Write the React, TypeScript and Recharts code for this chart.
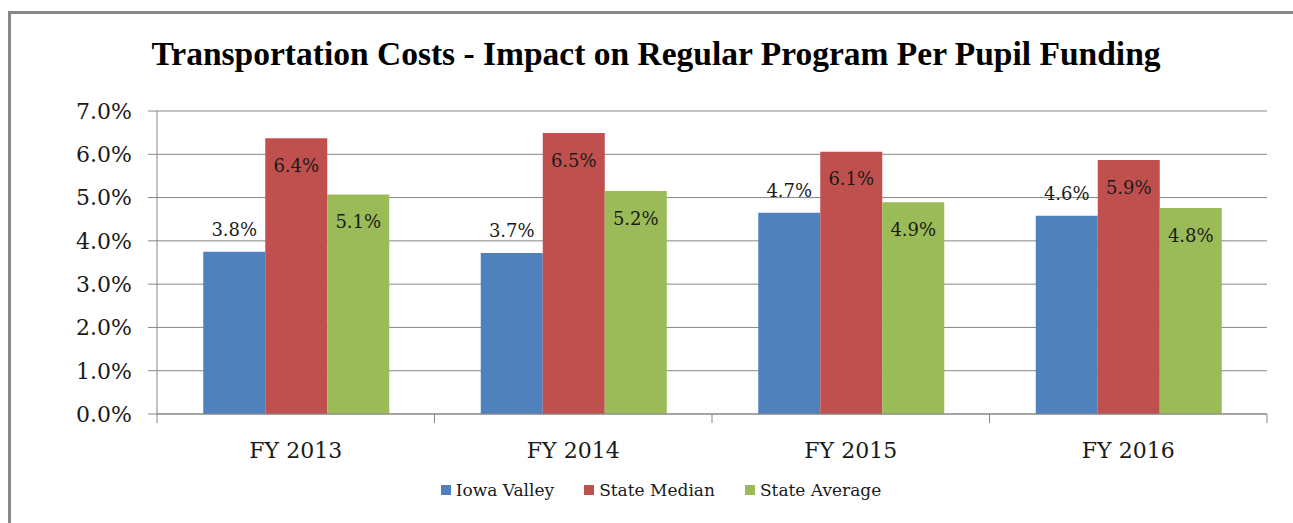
import React from "react";
import { BarChart, Bar, XAxis, YAxis, CartesianGrid, LabelList } from "recharts";

const categories = ["FY 2013", "FY 2014", "FY 2015", "FY 2016"];
const iowaValley = [3.75, 3.72, 4.65, 4.58];
const stateMedian = [6.37, 6.49, 6.06, 5.87];
const stateAverage = [5.07, 5.15, 4.89, 4.76];
const yTicks = [0, 1, 2, 3, 4, 5, 6, 7];

const series = [
  { key: "iowa", name: "Iowa Valley", color: "#4F81BD", label: "top", offset: 16 },
  { key: "median", name: "State Median", color: "#C0504D", label: "insideTop", offset: 21 },
  { key: "average", name: "State Average", color: "#9BBB59", label: "insideTop", offset: 21 },
];

const data = categories.map((c, i) => ({
  name: c,
  iowa: iowaValley[i],
  median: stateMedian[i],
  average: stateAverage[i],
}));

const CHART_W = 1282;
const CHART_H = 470;
const MARGIN = { top: 97, right: 26, bottom: 0, left: 0 };
const Y_W = 146;
const BAND = (CHART_W - MARGIN.left - MARGIN.right - Y_W) / categories.length;
const GRID = "#868686";
const FONT = "'DejaVu Serif', serif";

const fmt = (v: number) => `${v.toFixed(1)}%`;

function CategoryTick(props: any) {
  const { x, y, payload, index } = props;
  const half = BAND / 2;
  return (
    <g>
      <line x1={x - half} x2={x - half} y1={y} y2={y + 9} stroke={GRID} />
      {index === categories.length - 1 && (
        <line x1={x + half} x2={x + half} y1={y} y2={y + 9} stroke={GRID} />
      )}
      <text x={x} y={y + 44} textAnchor="middle" fontSize={22} fontFamily={FONT} fill="#1a1a1a">
        {payload.value}
      </text>
    </g>
  );
}

export default function App() {
  return (
    <div style={{ position: "relative", width: 1293, height: 523, overflow: "hidden" }}>
      <style>{"body { margin: 0; } html, body { overflow: hidden; }"}</style>
      {/* frame: top and left edges of the chart box */}
      <div style={{ position: "absolute", left: 8, top: 11, width: 1285, height: 3, background: "#878787" }} />
      <div style={{ position: "absolute", left: 8, top: 11, width: 3, height: 512, background: "#878787" }} />
      <div style={{ position: "absolute", left: 11, top: 14, width: 1282, height: 509, overflow: "hidden" }}>
        <div
          style={{
            position: "absolute",
            left: 0,
            width: 1290,
            top: 21,
            textAlign: "center",
            fontFamily: "'Liberation Serif', serif",
            fontWeight: "bold",
            fontSize: 33.5,
            color: "#000",
            whiteSpace: "nowrap",
          }}
        >
          Transportation Costs - Impact on Regular Program Per Pupil Funding
        </div>
        <BarChart
          width={CHART_W}
          height={CHART_H}
          data={data}
          margin={MARGIN}
          barCategoryGap="16.67%"
          barGap={0}
        >
          <CartesianGrid vertical={false} stroke={GRID} />
          <XAxis
            dataKey="name"
            height={70}
            tickSize={0}
            tickMargin={0}
            axisLine={{ stroke: GRID }}
            tickLine={false}
            tick={<CategoryTick />}
            interval={0}
          />
          <YAxis
            width={Y_W}
            domain={[0, 7]}
            ticks={yTicks}
            tickFormatter={fmt}
            tickSize={9}
            tickMargin={16}
            axisLine={{ stroke: GRID }}
            tickLine={{ stroke: GRID }}
            tick={{ fontSize: 22, fontFamily: FONT, fill: "#1a1a1a" }}
          />
          {series.map((s) => (
            <Bar key={s.key} dataKey={s.key} name={s.name} fill={s.color} isAnimationActive={false}>
              <LabelList
                dataKey={s.key}
                position={s.label as any}
                offset={s.offset}
                formatter={(v: any) => fmt(Number(v))}
                style={{ fontSize: 18, fontFamily: FONT, fill: "#1a1a1a" }}
              />
            </Bar>
          ))}
        </BarChart>
        <div
          style={{
            position: "absolute",
            left: 0,
            width: 1300,
            top: 466,
            display: "flex",
            justifyContent: "center",
            fontFamily: FONT,
            fontSize: 17,
            color: "#1a1a1a",
          }}
        >
          {series.map((s, i) => (
            <div key={s.key} style={{ display: "flex", alignItems: "center", marginLeft: i ? 30 : 0 }}>
              <span style={{ width: 10, height: 10, background: s.color, marginRight: 5, display: "inline-block" }} />
              <span>{s.name}</span>
            </div>
          ))}
        </div>
      </div>
    </div>
  );
}
